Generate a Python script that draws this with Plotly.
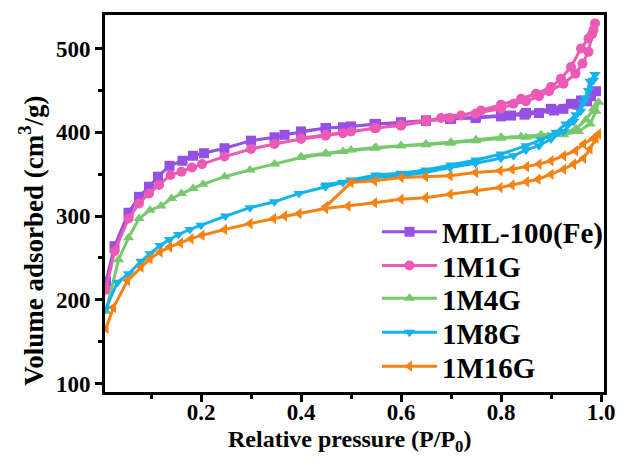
import plotly.graph_objects as go

# ---------------- data ----------------
names = ["MIL-100(Fe)", "1M1G", "1M4G", "1M8G", "1M16G"]
colors = ["#9650E6", "#EB5AB4", "#78C86E", "#14B4EB", "#F58214"]
symbols = ["square", "circle", "triangle-up", "triangle-down", "triangle-left"]

# MIL-100(Fe)
mil_ads_x = [0.01, 0.027, 0.055, 0.076, 0.096, 0.114, 0.137, 0.163, 0.184, 0.206, 0.247, 0.30, 0.347, 0.367, 0.40, 0.449, 0.484,
             0.547, 0.60, 0.65, 0.698, 0.749, 0.80, 0.82, 0.847, 0.876, 0.906, 0.925, 0.953, 0.972, 0.99]
mil_ads_y = [222, 264, 304, 323, 335, 347, 360, 366, 372, 375, 381, 390, 394, 397, 400, 405, 406,
             410, 411, 414, 416, 417, 419, 420, 421, 423, 426, 428, 433, 437, 449]
mil_des_x = [0.98, 0.96, 0.94, 0.90, 0.85, 0.80, 0.75, 0.70, 0.65, 0.60, 0.55, 0.50, 0.45, 0.40]
mil_des_y = [443, 438, 434, 428, 423, 420, 418, 416, 414, 412, 410, 407, 405, 401]

# 1M1G
m1_ads_x = [0.01, 0.027, 0.055, 0.076, 0.096, 0.116, 0.139, 0.161, 0.182, 0.202, 0.247, 0.30, 0.347, 0.40, 0.449, 0.484,
            0.547, 0.60, 0.65, 0.698, 0.749, 0.80, 0.825, 0.85, 0.876, 0.896, 0.925, 0.949, 0.963, 0.975, 0.982, 0.988]
m1_ads_y = [212, 258, 297, 315, 327, 337, 349, 353, 358, 362, 371, 380, 386, 392, 396, 399,
            405, 408, 413, 417, 422, 428, 434, 437, 443, 449, 458, 470, 482, 496, 517, 530]
m1_des_x = [0.985, 0.975, 0.96, 0.94, 0.92, 0.90, 0.87, 0.84, 0.80, 0.76, 0.72, 0.68, 0.65, 0.60, 0.55, 0.50, 0.45, 0.40]
m1_des_y = [522, 512, 500, 478, 464, 454, 446, 440, 433, 426, 420, 417, 414, 409, 405, 401, 397, 393]

# 1M4G
m4_ads_x = [0.01, 0.035, 0.055, 0.076, 0.098, 0.12, 0.141, 0.161, 0.184, 0.204, 0.247, 0.298, 0.347, 0.40, 0.449, 0.484,
            0.547, 0.60, 0.65, 0.698, 0.749, 0.80, 0.85, 0.894, 0.925, 0.955, 0.978, 0.99, 0.995]
m4_ads_y = [186, 248, 274, 297, 307, 312, 321, 327, 333, 338, 347, 355, 362, 370, 374, 377,
            381, 384, 385, 387, 390, 393, 394, 395, 397, 401, 410, 425, 436]
m4_des_x = [0.985, 0.97, 0.95, 0.92, 0.88, 0.84, 0.80, 0.75, 0.70, 0.65, 0.60, 0.55, 0.50, 0.45, 0.40]
m4_des_y = [428, 415, 404, 399, 397, 395, 394, 391, 388, 386, 384, 382, 379, 375, 371]

# 1M8G
m8_ads_x = [0.01, 0.033, 0.055, 0.08, 0.098, 0.118, 0.137, 0.155, 0.178, 0.20, 0.249, 0.298, 0.347, 0.396, 0.449, 0.484,
            0.547, 0.60, 0.649, 0.698, 0.749, 0.80, 0.825, 0.85, 0.876, 0.90, 0.925, 0.945, 0.959, 0.969, 0.978, 0.988]
m8_ads_y = [190, 221, 231, 246, 255, 265, 272, 278, 284, 289, 300, 310, 317, 327, 335, 340,
            346, 348, 352, 358, 363, 369, 372, 379, 384, 392, 401, 413, 425, 441, 461, 469]
m8_des_x = [0.985, 0.975, 0.965, 0.95, 0.93, 0.91, 0.88, 0.85, 0.80, 0.75, 0.70, 0.65, 0.60, 0.55, 0.50, 0.45]
m8_des_y = [462, 450, 436, 421, 410, 400, 391, 384, 374, 367, 361, 355, 351, 349, 343, 337]

# 1M16G
m16_ads_x = [0.01, 0.025, 0.053, 0.08, 0.098, 0.118, 0.137, 0.159, 0.18, 0.202, 0.247, 0.298, 0.345, 0.367, 0.396, 0.449, 0.494,
             0.547, 0.60, 0.649, 0.698, 0.749, 0.798, 0.822, 0.851, 0.874, 0.90, 0.925, 0.945, 0.965, 0.978, 0.99, 0.995]
m16_ads_y = [166, 191, 223, 239, 249, 257, 263, 268, 273, 277, 284, 291, 297, 300, 303, 309, 312,
             316, 320, 322, 326, 330, 334, 337, 341, 344, 350, 356, 362, 369, 380, 393, 398]
m16_des_x = [0.985, 0.965, 0.949, 0.925, 0.90, 0.876, 0.851, 0.822, 0.798, 0.749, 0.698, 0.649, 0.60, 0.547, 0.50, 0.449]
m16_des_y = [393, 386, 378, 372, 366, 362, 359, 356, 354, 352, 348, 347, 346, 342, 340, 311]

series_x = [mil_ads_x + mil_des_x, m1_ads_x + m1_des_x, m4_ads_x + m4_des_x, m8_ads_x + m8_des_x, m16_ads_x + m16_des_x]
series_y = [mil_ads_y + mil_des_y, m1_ads_y + m1_des_y, m4_ads_y + m4_des_y, m8_ads_y + m8_des_y, m16_ads_y + m16_des_y]

x_tickvals = [0.2, 0.4, 0.6, 0.8, 1.0]
x_ticktext = ["0.2", "0.4", "0.6", "0.8", "1.0"]
y_tickvals = [100, 200, 300, 400, 500]
x_title = "Relative pressure (P/P<sub>0</sub>)"
y_title = "Volume adsorbed (cm<sup>3</sup>/g)"

# ---------------- figure ----------------
FONT = "Liberation Serif"
legend_ids = ["legend", "legend2", "legend3", "legend4", "legend5"]
legend_y = [0.425, 0.335, 0.248, 0.158, 0.068]   # vertical slot of each legend entry (paper coords)

fig = go.Figure()
for n, c, s, xs, ys, lg in zip(names, colors, symbols, series_x, series_y, legend_ids):
    fig.add_trace(go.Scatter(
        x=xs, y=ys, name=n, mode="lines+markers",
        line=dict(color=c, width=3),
        marker=dict(symbol=s, size=10, color=c),
        legend=lg,
    ))

axis_common = dict(
    showline=True, linecolor="black", linewidth=3, mirror=True,
    ticks="outside", ticklen=7, tickwidth=3, tickcolor="black",
    showgrid=False, zeroline=False,
    tickfont=dict(family=FONT, size=23, color="black", weight="bold"),
)

legend_style = dict(
    x=0.545, xanchor="left", yanchor="middle",
    bgcolor="rgba(0,0,0,0)", borderwidth=0,
    font=dict(family=FONT, size=29, color="black", weight="bold"),
    itemwidth=55,
)
legend_layout = {lg: dict(legend_style, y=ly) for lg, ly in zip(legend_ids, legend_y)}

fig.update_layout(
    width=627, height=465,
    margin=dict(l=105, r=12, t=13, b=73),
    paper_bgcolor="white", plot_bgcolor="white",
    font=dict(family=FONT, color="black"),
    showlegend=True,
    xaxis=dict(
        range=[0.008, 1.006],
        tickmode="array", tickvals=x_tickvals, ticktext=x_ticktext,
        ticklabelstandoff=-10,
        minor=dict(dtick=0.1, tick0=0, ticks="outside", ticklen=4, tickwidth=3, tickcolor="black"),
        **axis_common,
    ),
    yaxis=dict(
        range=[90, 540],
        tickmode="array", tickvals=y_tickvals,
        minor=dict(dtick=50, tick0=0, ticks="outside", ticklen=4, tickwidth=3, tickcolor="black"),
        **axis_common,
    ),
    annotations=[
        dict(text=x_title, xref="paper", yref="paper", x=0.49, y=-0.13, xanchor="center", yanchor="middle",
             showarrow=False, font=dict(family=FONT, size=24, color="black", weight="bold")),
        dict(text=y_title, xref="paper", yref="paper", x=-0.147, y=0.40, xanchor="center", yanchor="middle",
             textangle=-90, showarrow=False, font=dict(family=FONT, size=27, color="black", weight="bold")),
    ],
    **legend_layout,
)

fig.write_html(
    "out.html",
    config={"displayModeBar": False},
    post_script="document.body.style.margin='0px';document.body.style.overflow='hidden';",
)
